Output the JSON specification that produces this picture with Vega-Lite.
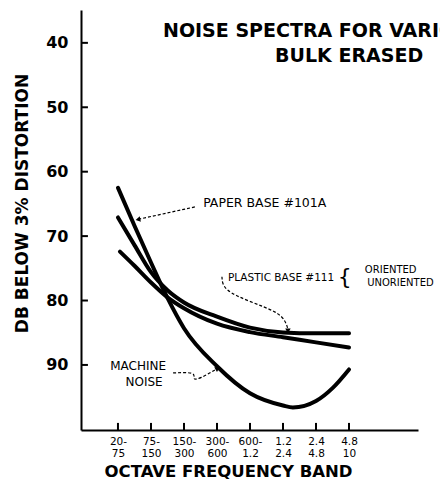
{
  "$schema": "https://vega.github.io/schema/vega-lite/v6.json",
  "width": 337,
  "height": 420,
  "autosize": {"type": "none"},
  "padding": {"left": 81, "top": 10, "right": 22, "bottom": 55},
  "background": "white",
  "config": {"view": {"stroke": null}, "font": "DejaVu Sans"},
  "datasets": {
    "curves": [
      {"curve": "Paper Base #101A", "band": 0, "db": 62.5},
      {"curve": "Paper Base #101A", "band": 0.5, "db": 68.4},
      {"curve": "Paper Base #101A", "band": 1, "db": 74.1},
      {"curve": "Paper Base #101A", "band": 1.5, "db": 79.6},
      {"curve": "Paper Base #101A", "band": 2, "db": 84.3},
      {"curve": "Paper Base #101A", "band": 3, "db": 90.2},
      {"curve": "Paper Base #101A", "band": 4, "db": 94.4},
      {"curve": "Paper Base #101A", "band": 5, "db": 96.3},
      {"curve": "Paper Base #101A", "band": 5.3, "db": 96.6},
      {"curve": "Paper Base #101A", "band": 6, "db": 95.6},
      {"curve": "Paper Base #101A", "band": 6.5, "db": 93.6},
      {"curve": "Paper Base #101A", "band": 7, "db": 90.7},
      {"curve": "Plastic Base #111", "band": 0, "db": 67.1},
      {"curve": "Plastic Base #111", "band": 0.5, "db": 71.4},
      {"curve": "Plastic Base #111", "band": 1, "db": 75.6},
      {"curve": "Plastic Base #111", "band": 1.5, "db": 78.4},
      {"curve": "Plastic Base #111", "band": 2, "db": 80.3},
      {"curve": "Plastic Base #111", "band": 3, "db": 82.5},
      {"curve": "Plastic Base #111", "band": 4, "db": 84.2},
      {"curve": "Plastic Base #111", "band": 5, "db": 84.95},
      {"curve": "Plastic Base #111", "band": 6, "db": 85.1},
      {"curve": "Plastic Base #111", "band": 7, "db": 85.1},
      {"curve": "Machine Noise", "band": 0.06, "db": 72.4},
      {"curve": "Machine Noise", "band": 0.5, "db": 74.6},
      {"curve": "Machine Noise", "band": 1, "db": 77.2},
      {"curve": "Machine Noise", "band": 1.5, "db": 79.5},
      {"curve": "Machine Noise", "band": 2, "db": 81.2},
      {"curve": "Machine Noise", "band": 3, "db": 83.6},
      {"curve": "Machine Noise", "band": 4, "db": 84.9},
      {"curve": "Machine Noise", "band": 5, "db": 85.7},
      {"curve": "Machine Noise", "band": 6, "db": 86.5},
      {"curve": "Machine Noise", "band": 7, "db": 87.3}
    ],
    "leaders": [
      {"id": "paper", "k": 0, "band": 2.33, "db": 65.47},
      {"id": "paper", "k": 1, "band": 0.67, "db": 67.33},
      {"id": "plastic", "k": 0, "band": 3.15, "db": 76.3},
      {"id": "plastic", "k": 1, "band": 3.18, "db": 78.35},
      {"id": "plastic", "k": 2, "band": 4.0, "db": 80.2},
      {"id": "plastic", "k": 3, "band": 4.85, "db": 81.77},
      {"id": "plastic", "k": 4, "band": 5.09, "db": 83.3},
      {"id": "plastic", "k": 5, "band": 5.15, "db": 84.5},
      {"id": "machine", "k": 0, "band": 1.67, "db": 91.24},
      {"id": "machine", "k": 1, "band": 2.39, "db": 91.09},
      {"id": "machine", "k": 2, "band": 2.24, "db": 92.33},
      {"id": "machine", "k": 3, "band": 2.48, "db": 92.17},
      {"id": "machine", "k": 4, "band": 3.0, "db": 90.6}
    ],
    "xticks": [{"band": 0}, {"band": 1}, {"band": 2}, {"band": 3}, {"band": 4}, {"band": 5}, {"band": 6}, {"band": 7}],
    "yticks": [{"db": 40}, {"db": 50}, {"db": 60}, {"db": 70}, {"db": 80}, {"db": 90}],
    "one": [{}]
  },
  "layer": [
    {
      "data": {"name": "curves"},
      "mark": {"type": "line", "interpolate": "monotone", "strokeWidth": 4, "color": "black", "strokeCap": "round"},
      "encoding": {
        "x": {
          "field": "band", "type": "quantitative",
          "scale": {"domain": [-1.12, 9.09], "nice": false, "zero": false},
          "axis": {
            "values": [0, 1, 2, 3, 4, 5, 6, 7],
            "labelExpr": "split(['20-|75','75-|150','150-|300','300-|600','600-|1.2','1.2|2.4','2.4|4.8','4.8|10'][datum.value], '|')",
            "labelFontSize": 10.5, "labelLineHeight": 12.5, "labelBaseline": "top", "labelPadding": 6,
            "labelAngle": 0, "labelOverlap": false, "labelFlush": false, "labelColor": "black",
            "ticks": false,
            "domainWidth": 2, "domainColor": "black", "grid": false,
            "title": "OCTAVE FREQUENCY BAND", "titleFontSize": 16.5, "titleFontWeight": "bold", "titleColor": "black",
            "titleX": 147, "titleY": 41, "titleBaseline": "middle", "titleAlign": "center"
          }
        },
        "y": {
          "field": "db", "type": "quantitative",
          "scale": {"domain": [34.9, 100.1], "reverse": true, "nice": false, "zero": false},
          "axis": {
            "values": [40, 50, 60, 70, 80, 90],
            "labelFontSize": 16, "labelFontWeight": "bold", "labelColor": "black", "labelPadding": 13,
            "ticks": false,
            "domainWidth": 2, "domainColor": "black", "grid": false,
            "title": "DB BELOW 3% DISTORTION", "titleFontSize": 17, "titleFontWeight": "bold", "titleColor": "black",
            "titleX": -59, "titleY": 193, "titleAlign": "center", "titleBaseline": "middle", "titleAngle": -90
          }
        },
        "detail": {"field": "curve"}
      }
    },
    {
      "data": {"name": "xticks"},
      "mark": {"type": "rule", "strokeWidth": 2, "color": "black"},
      "encoding": {
        "x": {"field": "band", "type": "quantitative"},
        "y": {"datum": 100.1},
        "y2": {"datum": 99.0}
      }
    },
    {
      "data": {"name": "yticks"},
      "mark": {"type": "rule", "strokeWidth": 2, "color": "black"},
      "encoding": {
        "y": {"field": "db", "type": "quantitative"},
        "x": {"datum": -1.12},
        "x2": {"datum": -0.91}
      }
    },
    {
      "data": {"name": "leaders"},
      "mark": {"type": "line", "interpolate": "basis", "strokeWidth": 1.2, "color": "black", "strokeDash": [3, 2]},
      "encoding": {
        "x": {"field": "band", "type": "quantitative"},
        "y": {"field": "db", "type": "quantitative"},
        "detail": {"field": "id"},
        "order": {"field": "k"}
      }
    },
    {
      "data": {"name": "one"},
      "mark": {"type": "point", "shape": "triangle", "filled": true, "color": "black", "size": 30, "angle": 258, "opacity": 1},
      "encoding": {"x": {"datum": 0.63}, "y": {"datum": 67.4}}
    },
    {
      "data": {"name": "one"},
      "mark": {"type": "point", "shape": "triangle", "filled": true, "color": "black", "size": 30, "angle": 180, "opacity": 1},
      "encoding": {"x": {"datum": 5.15}, "y": {"datum": 84.6}}
    },
    {
      "data": {"name": "one"},
      "mark": {"type": "point", "shape": "triangle", "filled": true, "color": "black", "size": 30, "angle": 60, "opacity": 1},
      "encoding": {"x": {"datum": 3.0}, "y": {"datum": 90.6}}
    },
    {
      "data": {"name": "one"},
      "mark": {"type": "text", "text": "NOISE SPECTRA FOR VARIOUS TAPES", "align": "left", "baseline": "middle", "fontSize": 19, "fontWeight": "bold", "color": "black"},
      "encoding": {"x": {"datum": 1.364}, "y": {"datum": 38.14}}
    },
    {
      "data": {"name": "one"},
      "mark": {"type": "text", "text": "BULK ERASED", "align": "left", "baseline": "middle", "fontSize": 19, "fontWeight": "bold", "color": "black"},
      "encoding": {"x": {"datum": 4.76}, "y": {"datum": 42.02}}
    },
    {
      "data": {"name": "one"},
      "mark": {"type": "text", "text": "PAPER BASE #101A", "align": "left", "baseline": "middle", "fontSize": 12.5, "color": "black"},
      "encoding": {"x": {"datum": 2.58}, "y": {"datum": 64.84}}
    },
    {
      "data": {"name": "one"},
      "mark": {"type": "text", "text": "PLASTIC BASE #111", "align": "left", "baseline": "middle", "fontSize": 10.5, "color": "black"},
      "encoding": {"x": {"datum": 3.33}, "y": {"datum": 76.49}}
    },
    {
      "data": {"name": "one"},
      "mark": {"type": "text", "text": "{", "align": "left", "baseline": "middle", "fontSize": 22, "color": "black"},
      "encoding": {"x": {"datum": 6.66}, "y": {"datum": 76.3}}
    },
    {
      "data": {"name": "one"},
      "mark": {"type": "text", "text": "ORIENTED", "align": "left", "baseline": "middle", "fontSize": 10, "color": "black"},
      "encoding": {"x": {"datum": 7.48}, "y": {"datum": 75.25}}
    },
    {
      "data": {"name": "one"},
      "mark": {"type": "text", "text": "UNORIENTED", "align": "left", "baseline": "middle", "fontSize": 10, "color": "black"},
      "encoding": {"x": {"datum": 7.55}, "y": {"datum": 77.27}}
    },
    {
      "data": {"name": "one"},
      "mark": {"type": "text", "text": "MACHINE", "align": "center", "baseline": "middle", "fontSize": 12, "color": "black"},
      "encoding": {"x": {"datum": 0.61}, "y": {"datum": 90.16}}
    },
    {
      "data": {"name": "one"},
      "mark": {"type": "text", "text": "NOISE", "align": "center", "baseline": "middle", "fontSize": 12, "color": "black"},
      "encoding": {"x": {"datum": 0.79}, "y": {"datum": 92.64}}
    }
  ]
}
